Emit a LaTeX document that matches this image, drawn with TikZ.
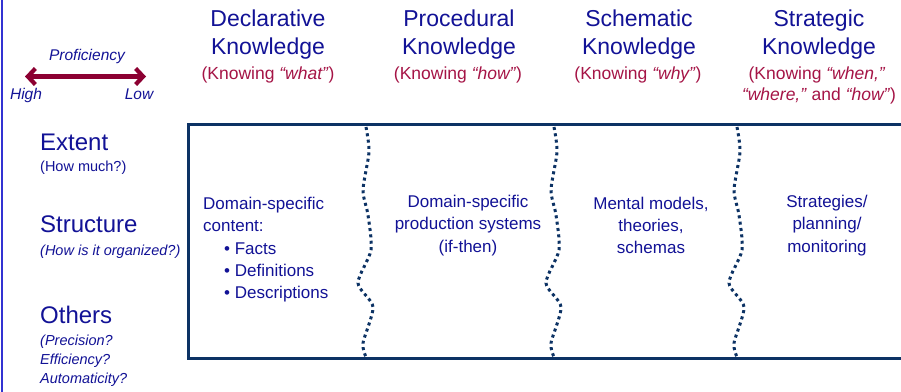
\documentclass[tikz,border=0pt]{standalone}
\usepackage{fontspec}
\setmainfont{Liberation Sans}
\usetikzlibrary{arrows.meta}
\definecolor{tblue}{RGB}{18,18,150}
\definecolor{tred}{RGB}{165,20,70}
\definecolor{arrred}{RGB}{140,0,50}
\definecolor{boxnavy}{RGB}{12,50,100}
\definecolor{edgeblue}{RGB}{50,50,210}
\tikzset{
  hdr/.style={text=tblue, font=\fontsize{23}{27}\selectfont, anchor=base, inner sep=0pt},
  subhdr/.style={text=tred, font=\fontsize{17.5}{21}\selectfont, anchor=base, inner sep=0pt},
  rowlbl/.style={text=tblue, font=\fontsize{24}{28}\selectfont, anchor=base west, inner sep=0pt},
  rowsub/.style={text=tblue, font=\fontsize{14.5}{17}\selectfont, anchor=base west, inner sep=0pt},
  rowsubi/.style={rowsub, font=\fontsize{14.5}{17}\selectfont\itshape},
  cellc/.style={text=tblue, font=\fontsize{17}{21}\selectfont, anchor=base, inner sep=0pt},
  celll/.style={text=tblue, font=\fontsize{17}{21}\selectfont, anchor=base west, inner sep=0pt},
  profl/.style={text=tblue, font=\fontsize{15.5}{18}\selectfont\itshape, anchor=base, inner sep=0pt},
  boxline/.style={draw=boxnavy, line width=3.6pt},
  wavy/.style={draw=boxnavy, line width=3pt, dash pattern=on 3pt off 3.4pt},
}
\begin{document}
\begin{tikzpicture}[x=1pt,y=-1pt]
\useasboundingbox (0,0) rectangle (901,391);
\fill[white] (0,0) rectangle (901,391);
% left edge line
\draw[edgeblue, line width=2pt] (1.5,-2) -- (1.5,393);

% proficiency scale
\node[profl] (prof) at (87,60) {Proficiency};
\coordinate (hi) at (25,76.5);
\coordinate (lo) at (146,76.5);
\draw[arrred, line width=4.2pt, {Straight Barb[length=7.5pt,width=16pt]}-{Straight Barb[length=7.5pt,width=16pt]}] (hi) -- (lo);
\node[profl] (high) at (26,99) {High};
\node[profl] (low) at (139,99) {Low};

% column headers
\node[hdr] (h1a) at (268,26) {Declarative};
\node[hdr] (h1b) at (268,54) {Knowledge};
\node[subhdr] (h1c) at (268,79) {(Knowing \textit{“what”})};

\node[hdr] (h2a) at (459,26) {Procedural};
\node[hdr] (h2b) at (459,54) {Knowledge};
\node[subhdr] (h2c) at (458,79) {(Knowing \textit{“how”})};

\node[hdr] (h3a) at (639,26) {Schematic};
\node[hdr] (h3b) at (639,54) {Knowledge};
\node[subhdr] (h3c) at (638,79) {(Knowing \textit{“why”})};

\node[hdr] (h4a) at (819,26) {Strategic};
\node[hdr] (h4b) at (819,54) {Knowledge};
\node[subhdr] (h4c) at (817,79) {(Knowing \textit{“when,”}};
\node[subhdr] (h4d) at (819,100) {\textit{“where,”} and \textit{“how”})};

% row labels
\node[rowlbl] (r1) at (40,150.5) {Extent};
\node[rowsub] (r1s) at (40,171) {(How much?)};
\node[rowlbl] (r2) at (40,232.5) {Structure};
\node[rowsubi] (r2s) at (40,255) {(How is it organized?)};
\node[rowlbl] (r3) at (40,323) {Others};
\node[rowsubi] (r3a) at (40,345.5) {(Precision?};
\node[rowsubi] (r3b) at (40,364.5) {Efficiency?};
\node[rowsubi] (r3c) at (40,383.5) {Automaticity?};

% main box (open on the right)
\draw[boxline] (910,124.5) -- (188.5,124.5) -- (188.5,358.5) -- (910,358.5);

% wavy dotted dividers
\foreach \x in {366,554,737}{
  \draw[wavy] plot[smooth, tension=0.45] coordinates {
    (\x,127) (\x+3,152) (\x-3,190) (\x+2,215) (\x+5,250) (\x-8,283) (\x+7,307) (\x-3,343) (\x,357)};
}

% cell contents
\node[celll] (c1a) at (203,209) {Domain-specific};
\node[celll] (c1b) at (203,231.5) {content:};
\node[celll] (c1c) at (224,254) {• Facts};
\node[celll] (c1d) at (224,276) {• Definitions};
\node[celll] (c1e) at (224,298) {• Descriptions};

\node[cellc] (c2a) at (468,207) {Domain-specific};
\node[cellc] (c2b) at (468,229.5) {production systems};
\node[cellc] (c2c) at (468,252) {(if-then)};

\node[cellc] (c3a) at (651,209) {Mental models,};
\node[cellc] (c3b) at (651,231) {theories,};
\node[cellc] (c3c) at (651,253) {schemas};

\node[cellc] (c4a) at (827,207) {Strategies/};
\node[cellc] (c4b) at (827,229.5) {planning/};
\node[cellc] (c4c) at (827,252) {monitoring};
\end{tikzpicture}
\end{document}
